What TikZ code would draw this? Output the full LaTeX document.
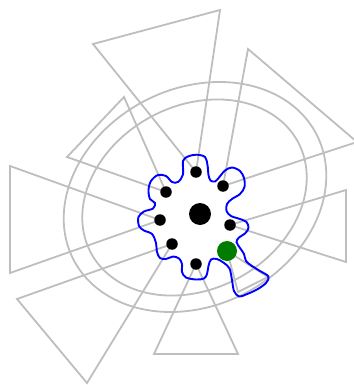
\documentclass[tikz,border=0pt]{standalone}
\begin{document}
\begin{tikzpicture}[x=1pt,y=-1pt]
\definecolor{fovgray}{RGB}{190,190,190}
\definecolor{sensgreen}{RGB}{0,125,0}
\tikzset{
  fov/.style={draw=fovgray,line width=1.8pt,line join=miter},
  ring/.style={draw=fovgray,line width=1.8pt},
  hull/.style={draw=blue,line width=1.9pt},
  sensor/.style={circle,fill=black,inner sep=0pt,minimum size=11.5pt},
  robot/.style={circle,fill=black,inner sep=0pt,minimum size=22pt},
  gsensor/.style={circle,fill=sensgreen,inner sep=0pt,minimum size=20pt}
}
\useasboundingbox (0,0) rectangle (353,385);
% sensor positions
\coordinate (p1) at (196,172);
\coordinate (p2) at (223,186);
\coordinate (p3) at (166,192);
\coordinate (p4) at (160,220);
\coordinate (p5) at (172,244);
\coordinate (p6) at (230,225);
\coordinate (p7) at (196,264);
\coordinate (pg) at (227,251);
% far vertices of fields of view
\coordinate (a1) at (93,44);   \coordinate (b1) at (220,10);
\coordinate (a2) at (248,49);  \coordinate (b2) at (357,142);
\coordinate (a3) at (67,157);  \coordinate (b3) at (124,97);
\coordinate (a4) at (10,166);  \coordinate (b4) at (10,273);
\coordinate (a5) at (17,299);  \coordinate (b5) at (87,383);
\coordinate (a6) at (346,190); \coordinate (b6) at (346,262);
\coordinate (a7) at (154,354); \coordinate (b7) at (238,354);
\coordinate (ag) at (268,277); \coordinate (bg) at (238,292);
% rings
\draw[ring] plot[domain=0:357,samples=120,smooth cycle]
  ({195+136.7*cos(\x)*0.889+108.5*sin(\x)*0.458},{197-136.7*cos(\x)*0.458+108.5*sin(\x)*0.889});
\draw[ring] plot[domain=0:357,samples=120,smooth cycle]
  ({194.5+117.4*cos(\x)*0.882+91.7*sin(\x)*0.472},{197.5-117.4*cos(\x)*0.472+91.7*sin(\x)*0.882});
% fields of view
\foreach \i in {1,...,7,g}{
  \draw[fov] (p\i) -- (a\i) -- (b\i) -- cycle;
}
% hull
\draw[hull] plot[smooth cycle,tension=0.55] coordinates {
 (178,182) (183,174.5) (183,161) (188,156.5) (196.5,154.7) (205,157) (207.5,165)
 (208.5,175) (210.5,180.5) (215,181.5) (219,177.5) (225,170.5) (232,167.5) (240,171)
 (244,178) (244.5,187) (240,194) (232,199) (227,204) (226.5,211) (231,216) (240,219)
 (246.5,222) (248.5,228) (245,233.5) (239,237.5) (236.5,242) (240,248) (244,254)
 (246,261) (252,266) (260,271) (268.5,276.5) (266,283) (257,289.5) (246,294.5)
 (239,296.5) (234,291) (232,280) (229.5,268.5) (224,263) (217,259) (211,259.5)
 (208.5,266) (207,274) (204,278.5) (196,279.5) (186,277.5) (182,272) (182,264)
 (179,258.5) (173,256.5) (166,259) (160,258) (157,252) (156,243) (152,234) (144,230.5)
 (139,226) (138.5,217) (144,211.5) (153,208.5) (155,203) (150,199) (148.5,190)
 (151,181) (158,175) (166,176) (172,182)};
% robot and sensors
\node[robot] (c) at (200,214) {};
\foreach \i in {1,...,7}{
  \node[sensor] (s\i) at (p\i) {};
}
\node[gsensor] (g) at (pg) {};
\end{tikzpicture}
\end{document}
